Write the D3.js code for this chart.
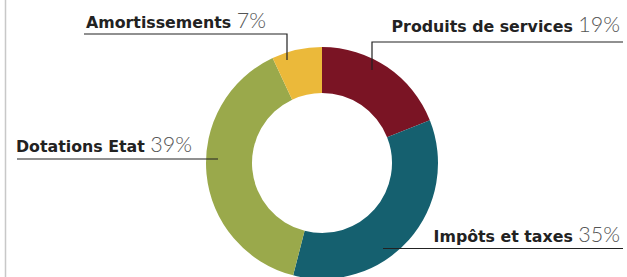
<!DOCTYPE html>
<html>
<head>
<meta charset="utf-8">
<script src="https://cdn.jsdelivr.net/npm/d3@7"></script>
<style>
  html, body { margin: 0; padding: 0; background: #fff; }
  svg { display: block; }
</style>
</head>
<body>
<svg id="chart"></svg>
<script>
// data (order = clockwise from 12 o'clock)
const categories = ['Produits de services', 'Impôts et taxes', 'Dotations Etat', 'Amortissements'];
const shares = [19, 35, 39, 7];
const colors = ['#7a1424', '#15606f', '#9aa94b', '#ebb93a'];

// label placement: text anchor, underline and leader tick
const labelLayout = [
  {x: 620, y: 32, anchor: 'end', line: [[623, 42], [372, 42], [372, 70]]},
  {x: 620, y: 242, anchor: 'end', line: [[623, 248.5], [383, 248.5]]},
  {x: 16, y: 152, anchor: 'start', line: [[17, 159], [218, 159]]},
  {x: 86, y: 28, anchor: 'start', line: [[84, 34], [287, 34], [287, 60]]}
];

const width = 627;
const height = 277;
const center = {x: 322, y: 163};
const outerR = 116;
const innerR = 70;

const svg = d3.select('#chart')
  .attr('width', width)
  .attr('height', height);

// thin grey rule on the left edge
svg.append('line')
  .attr('x1', 5.5).attr('x2', 5.5)
  .attr('y1', 0).attr('y2', height)
  .style('stroke', '#c8c8c8')
  .style('stroke-width', 1.5);

const pie = d3.pie().sort(null).value(d => d);
const arc = d3.arc().innerRadius(innerR).outerRadius(outerR);

svg.append('g')
  .attr('transform', 'translate(' + center.x + ',' + center.y + ')')
  .selectAll('path')
  .data(pie(shares))
  .enter()
  .append('path')
  .attr('d', arc)
  .style('fill', (d, i) => colors[i]);

// leader lines
const line = d3.line();
svg.selectAll('.leader')
  .data(labelLayout)
  .enter()
  .append('path')
  .attr('class', 'leader')
  .attr('d', d => line(d.line))
  .style('fill', 'none')
  .style('stroke', '#222')
  .style('stroke-width', 1.2);

// labels: bold name + light percentage
const labels = svg.selectAll('.label')
  .data(categories)
  .enter()
  .append('text')
  .attr('class', 'label')
  .attr('x', (d, i) => labelLayout[i].x)
  .attr('y', (d, i) => labelLayout[i].y)
  .attr('text-anchor', (d, i) => labelLayout[i].anchor);

labels.append('tspan')
  .style('font-family', '"DejaVu Sans", sans-serif')
  .style('font-weight', 700)
  .style('font-size', '15.8px')
  .style('fill', '#222')
  .text(d => d + ' ');

labels.append('tspan')
  .style('font-family', 'Lato, sans-serif')
  .style('font-weight', 300)
  .style('font-size', '21.5px')
  .style('fill', '#555')
  .text((d, i) => shares[i] + '%');
</script>
</body>
</html>
